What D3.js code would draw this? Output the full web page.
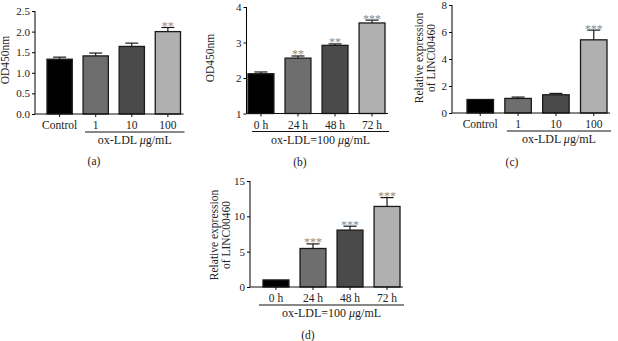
<!DOCTYPE html>
<html>
<head>
<meta charset="utf-8">
<script src="https://cdn.jsdelivr.net/npm/d3@7"></script>
<style>
  body { margin: 0; background: #fff; }
  svg text { font-family: "Liberation Serif", "DejaVu Serif", serif; fill: #222; }
</style>
</head>
<body>
<svg id="chart"></svg>
<script>
// categories
const concLabels = ["Control", "1", "10", "100"];
const timeLabels = ["0 h", "24 h", "48 h", "72 h"];

// (a) OD450 by concentration
const odConc = [1.33, 1.41, 1.64, 2.0];
const odConcErr = [0.05, 0.07, 0.08, 0.1];
const odConcStars = ["", "", "", "**"];

// (b) OD450 by time
const odTime = [2.12, 2.56, 2.92, 3.55];
const odTimeErr = [0.05, 0.06, 0.04, 0.08];
const odTimeStars = ["", "**", "**", "***"];

// (c) LINC00460 by concentration
const exprConc = [1.0, 1.08, 1.35, 5.42];
const exprConcErr = [0, 0.1, 0.1, 0.72];
const exprConcStars = ["", "", "", "***"];

// (d) LINC00460 by time
const exprTime = [1.0, 5.45, 8.05, 11.4];
const exprTimeErr = [0, 0.65, 0.55, 1.25];
const exprTimeStars = ["", "***", "***", "***"];

// tick labels
const ticksA = [0, 0.5, 1.0, 1.5, 2.0, 2.5];
const ticksB = [1, 2, 3, 4];
const ticksC = [0, 2, 4, 6, 8];
const ticksD = [0, 5, 10, 15];

const barColors = ["#000000", "#6e6e6e", "#4a4a4a", "#b0b0b0"];

const svg = d3.select("#chart").attr("width", 618).attr("height", 341);

function drawPanel(cfg) {
  const g = svg.append("g");
  const y = d3.scaleLinear().domain(cfg.domain).range([cfg.yBottom, cfg.yTop]);
  const x = d3.scaleBand().domain(cfg.cats).range([cfg.x0, cfg.x1])
      .paddingInner(0.3).paddingOuter(0);
  const mid = c => x(c) + x.bandwidth() / 2;

  const rows = cfg.cats.map((c, i) => ({c, v: cfg.values[i], e: cfg.errs[i], s: cfg.stars[i], i}));

  // bars
  g.selectAll(".bar").data(rows).join("rect")
      .attr("class", "bar")
      .attr("x", d => x(d.c))
      .attr("width", x.bandwidth())
      .attr("y", d => y(d.v))
      .attr("height", d => y(cfg.domain[0]) - y(d.v))
      .attr("fill", d => barColors[d.i])
      .attr("stroke", "#1a1a1a")
      .attr("stroke-width", 1.3);

  // error bars (upper only)
  const eb = g.selectAll(".err").data(rows.filter(d => d.e > 0)).join("g").attr("class", "err");
  eb.append("line")
      .attr("x1", d => mid(d.c)).attr("x2", d => mid(d.c))
      .attr("y1", d => y(d.v)).attr("y2", d => y(d.v + d.e))
      .attr("stroke", "#1a1a1a").attr("stroke-width", 1.2);
  eb.append("line")
      .attr("x1", d => mid(d.c) - 6.5).attr("x2", d => mid(d.c) + 6.5)
      .attr("y1", d => y(d.v + d.e)).attr("y2", d => y(d.v + d.e))
      .attr("stroke", "#1a1a1a").attr("stroke-width", 1.2);

  // significance stars
  g.selectAll(".star").data(rows.filter(d => d.s)).join("text")
      .attr("x", d => mid(d.c))
      .attr("y", d => y(d.v + d.e) + 2.5)
      .attr("text-anchor", "middle")
      .style("font-size", "12px")
      .style("fill", "#8a8a8a")
      .text(d => d.s);

  // y axis
  const yAxis = d3.axisLeft(y).tickValues(cfg.ticks).tickSize(3).tickPadding(2)
      .tickFormat(cfg.fmt);
  g.append("g")
      .attr("transform", `translate(${cfg.axisX},0)`)
      .call(yAxis)
      .call(a => a.select(".domain").attr("d", `M0,${cfg.yTop}V${cfg.yBottom}`))
      .call(a => a.selectAll("text").style("font-size", "11px").attr("fill", "#222"));

  // x axis line + ticks at bar centres
  const xa = g.append("g").attr("transform", `translate(0,${cfg.yBottom})`);
  xa.append("line").attr("x1", cfg.axisX).attr("x2", cfg.x1 + 3)
      .attr("stroke", "#111");
  xa.selectAll(".xt").data(rows).join("line")
      .attr("x1", d => mid(d.c)).attr("x2", d => mid(d.c))
      .attr("y1", 0).attr("y2", 3).attr("stroke", "#111");
  xa.selectAll(".xl").data(rows).join("text")
      .attr("x", d => mid(d.c))
      .attr("y", 15)
      .attr("text-anchor", "middle")
      .style("font-size", "11.5px")
      .text(d => d.c);

  // group underline + treatment label
  const u0 = x(cfg.cats[cfg.groupFrom]) + cfg.uPad;
  xa.append("line").attr("x1", u0).attr("x2", cfg.x1 + 4)
      .attr("y1", 18).attr("y2", 18).attr("stroke", "#111");
  xa.append("text")
      .attr("x", (u0 + cfg.x1 + 4) / 2)
      .attr("y", 30)
      .attr("text-anchor", "middle")
      .style("font-size", "12px")
      .html(cfg.group);

  // y label
  const yl = g.append("text")
      .attr("transform", `translate(${cfg.ylX},${cfg.ylY}) rotate(-90)`)
      .attr("text-anchor", "middle")
      .style("font-size", "11.5px");
  cfg.ylab.forEach((t, k) => {
    yl.append("tspan").attr("x", 0).attr("dy", k === 0 ? 0 : 12).text(t);
  });

  // panel tag
  g.append("text")
      .attr("x", cfg.tagX).attr("y", cfg.tagY)
      .attr("text-anchor", "middle")
      .style("font-size", "11.5px")
      .text(cfg.tag);
}

const f1 = d3.format(".1f");
const f0 = d3.format("d");

drawPanel({
  cats: concLabels, values: odConc, errs: odConcErr, stars: odConcStars,
  domain: [0, 2.5], ticks: ticksA, fmt: f1,
  yTop: 11, yBottom: 114, axisX: 35, x0: 47, x1: 180.5,
  groupFrom: 1, uPad: 2, group: "ox-LDL <tspan font-style='italic'>μ</tspan>g/mL",
  ylab: ["OD450nm"], ylX: 9, ylY: 60, tag: "(a)", tagX: 94, tagY: 165
});

drawPanel({
  cats: timeLabels, values: odTime, errs: odTimeErr, stars: odTimeStars,
  domain: [1, 4], ticks: ticksB, fmt: f0,
  yTop: 7, yBottom: 113.5, axisX: 246.5, x0: 248, x1: 385,
  groupFrom: 0, uPad: 4, group: "ox-LDL=100 <tspan font-style='italic'>μ</tspan>g/mL",
  ylab: ["OD450nm"], ylX: 214, ylY: 58, tag: "(b)", tagX: 300, tagY: 166
});

drawPanel({
  cats: concLabels, values: exprConc, errs: exprConcErr, stars: exprConcStars,
  domain: [0, 8], ticks: ticksC, fmt: f0,
  yTop: 5, yBottom: 113, axisX: 452, x0: 467, x1: 607,
  groupFrom: 1, uPad: 2, group: "ox-LDL <tspan font-style='italic'>μ</tspan>g/mL",
  ylab: ["Relative expression", "of LINC00460"], ylX: 423, ylY: 58, tag: "(c)", tagX: 512, tagY: 166
});

drawPanel({
  cats: timeLabels, values: exprTime, errs: exprTimeErr, stars: exprTimeStars,
  domain: [0, 15], ticks: ticksD, fmt: f0,
  yTop: 181, yBottom: 287, axisX: 250, x0: 263, x1: 400,
  groupFrom: 0, uPad: -4, group: "ox-LDL=100 <tspan font-style='italic'>μ</tspan>g/mL",
  ylab: ["Relative expression", "of LINC00460"], ylX: 218, ylY: 235, tag: "(d)", tagX: 308, tagY: 339
});
</script>
</body>
</html>
